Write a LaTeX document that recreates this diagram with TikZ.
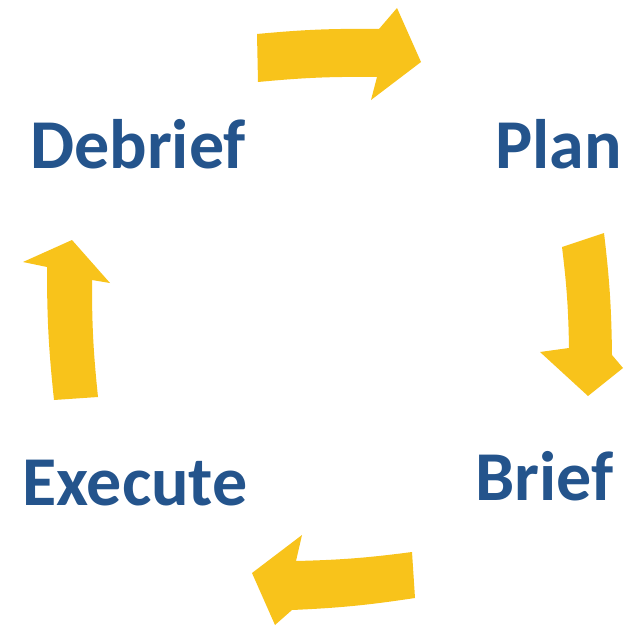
\documentclass[tikz,border=0pt]{standalone}
\usepackage{fontspec}
\setmainfont{Carlito}
\usepackage{tikz}

\definecolor{stepblue}{HTML}{24548C}
\definecolor{arrowgold}{HTML}{F8C31B}

\begin{document}
\begin{tikzpicture}[x=1pt, y=-1pt,
        phase/.style={inner sep=0pt, anchor=base west, text=stepblue,
                font=\fontsize{70}{70}\selectfont\bfseries},
        turn/.style={fill=arrowgold, draw=none}]
        \useasboundingbox (0, 0) rectangle (625, 626);

        % the four phases
        \node[phase] (debrief) at (30, 168) {Debrief};
        \node[phase] (plan) at (495, 168) {Plan};
        \node[phase] (brief) at (475, 500) {Brief};
        \node[phase] (execute) at (22, 505) {Execute};

        % arrows going round
        \fill[turn] (257, 34) to[bend left=3] (379, 29) -- (397, 8) -- (421, 62)
                -- (371, 100) -- (377, 77) to[bend right=3] (258, 82) -- cycle;
        \fill[turn] (562, 247) -- (604, 233) to[bend left=3] (612, 355) -- (623, 368)
                -- (588, 396) -- (540, 352) -- (569, 348) to[bend right=3] cycle;
        \fill[turn] (412, 552) -- (415, 598) to[bend left=3] (292, 610) -- (275, 625)
                -- (252, 573) -- (302, 535) -- (296, 561) to[bend right=3] cycle;
        \fill[turn] (98, 397) -- (54, 400) to[bend left=3] (47, 267) -- (23, 262)
                -- (72, 240) -- (110, 283) -- (92, 280) to[bend right=3] cycle;
    \end{tikzpicture}
\end{document}
